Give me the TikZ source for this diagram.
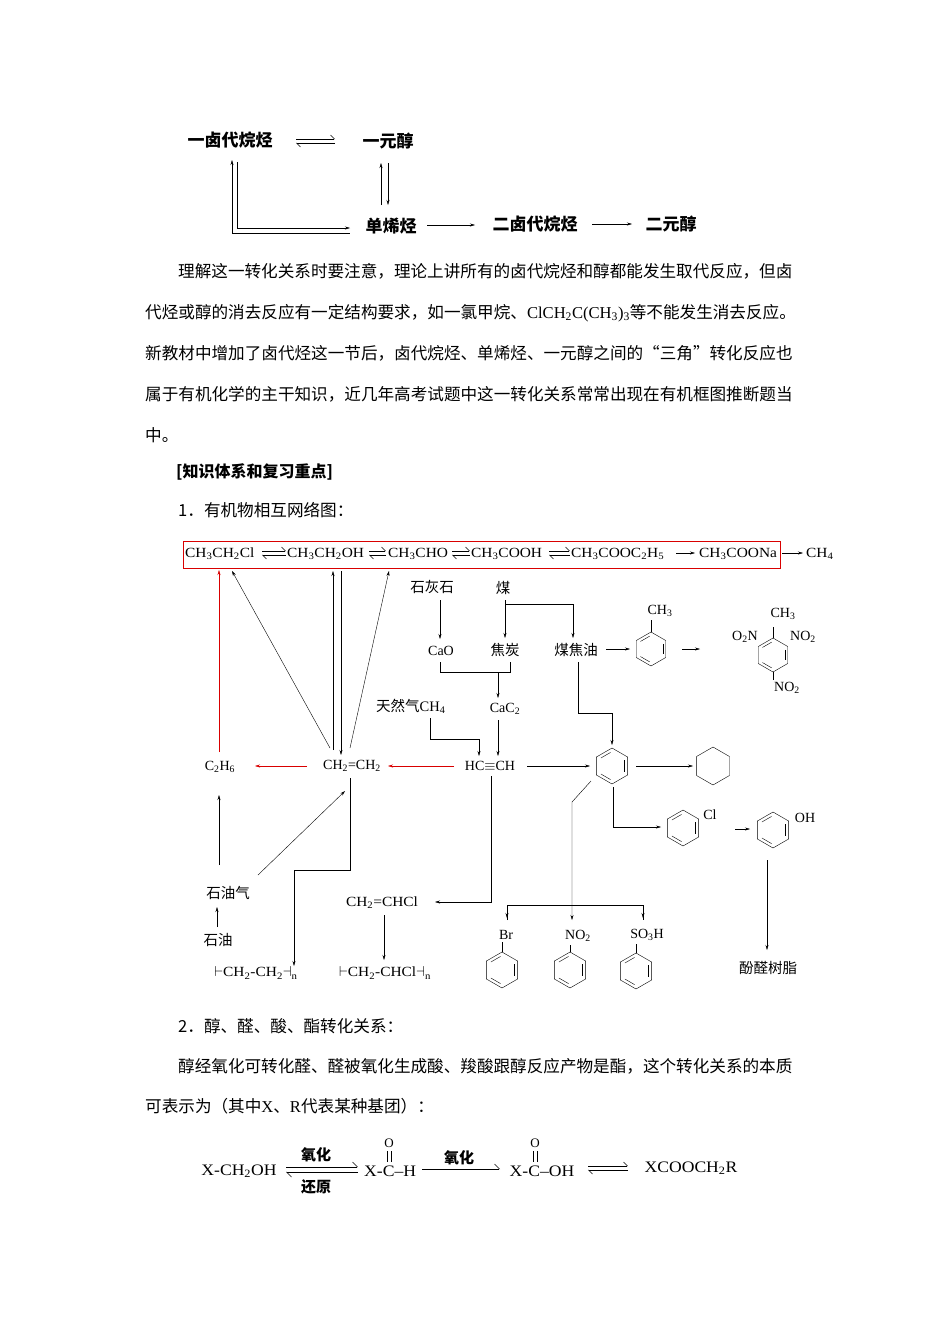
\documentclass[tikz,border=0pt]{standalone}
\usepackage{fontspec}
\setmainfont{Noto Sans CJK SC}
\newfontfamily\latf{Liberation Serif}
\newfontfamily\latw[FakeStretch=1.1]{Liberation Serif}
\usetikzlibrary{arrows.meta}
\newcommand{\dn}[1]{\textsubscript{#1}}
\newcommand{\hexa}[3]{%
 \begin{scope}[shift={(#1,#2)},y=1pt]
 \draw (90:#3) -- (30:#3) -- (-30:#3) -- (-90:#3) -- (-150:#3) -- (150:#3) -- cycle;
 \end{scope}}
\newcommand{\benz}[3]{%
 \begin{scope}[shift={(#1,#2)},y=1pt]
 \draw (90:#3) -- (30:#3) -- (-30:#3) -- (-90:#3) -- (-150:#3) -- (150:#3) -- cycle;
 \draw (24:0.76*#3) -- (-24:0.76*#3);
 \draw (-96:0.76*#3) -- (-144:0.76*#3);
 \draw (144:0.76*#3) -- (96:0.76*#3);
 \end{scope}}
\newcommand{\eqa}[3]{% x1 x2 y
 \draw[-{Straight Barb[left,length=4pt]}] (#1,#3-2) -- (#2,#3-2);
 \draw[-{Straight Barb[left,length=4pt]}] (#2,#3+2) -- (#1,#3+2);}
\begin{document}
\begin{tikzpicture}[x=1pt,y=-1pt,
 every node/.style={inner sep=0pt},
 para/.style={font=\fontsize{16.6}{18}\selectfont,anchor=west},
 big/.style={font=\fontsize{17}{18}\selectfont\bfseries},
 ch/.style={font=\latf\fontsize{14}{15}\selectfont},
 chw/.style={font=\latw\fontsize{14}{15}\selectfont},
 eq/.style={font=\latw\fontsize{16}{17}\selectfont},
 cn/.style={font=\fontsize{14.5}{15}\selectfont},
 ar/.style={-{Stealth[length=5pt,width=3pt]}},
 red/.style={draw=red!85!black}]
\useasboundingbox (0,0) rectangle (950,1344);
% ---- top scheme
\node[big] (a1) at (230,140) {一卤代烷烃};
\node[big] (a2) at (388,141) {一元醇};
\node[big] (a3) at (391,226) {单烯烃};
\node[big] (a4) at (535,224) {二卤代烷烃};
\node[big] (a5) at (671,224) {二元醇};
\eqa{296}{335}{141}
\draw[ar] (381,205) -- (381,163);
\draw[ar] (388,163) -- (388,205);
\draw[ar] (232,233) -- (232,160);
\draw[ar] (237,162) -- (237,228) -- (350,228);
\draw (232,233) -- (350,233);
\draw[ar] (427,225) -- (475,225);
\draw[ar] (592,224) -- (632,224);
% ---- paragraph
\node[para] at (178,271) {理解这一转化关系时要注意，理论上讲所有的卤代烷烃和醇都能发生取代反应，但卤};
\node[para] at (145,313) {代烃或醇的消去反应有一定结构要求，如一氯甲烷、{\latf ClCH\dn{2}C(CH\dn{3})\dn{3}}等不能发生消去反应。};
\node[para] at (145,353) {新教材中增加了卤代烃这一节后，卤代烷烃、单烯烃、一元醇之间的“三角”转化反应也};
\node[para] at (145,394) {属于有机化学的主干知识，近几年高考试题中这一转化关系常常出现在有机框图推断题当};
\node[para] at (145,435) {中。};
\node[para,font=\fontsize{16}{18}\selectfont\bfseries] at (176,472) {[知识体系和复习重点]};
\node[para] at (178,510) {1．有机物相互网络图：};
% ---- network top row
\draw[red,thick] (183,541) rectangle (780,568);
\node[chw,anchor=west] (t1) at (185,554) {CH\dn{3}CH\dn{2}Cl};
\node[chw,anchor=west] (t2) at (287,554) {CH\dn{3}CH\dn{2}OH};
\node[chw,anchor=west] (t3) at (388,554) {CH\dn{3}CHO};
\node[chw,anchor=west] (t4) at (471,554) {CH\dn{3}COOH};
\node[chw,anchor=west] (t5) at (571,554) {CH\dn{3}COOC\dn{2}H\dn{5}};
\node[chw,anchor=west] (t6) at (699,554) {CH\dn{3}COONa};
\node[chw,anchor=west] (t7) at (806,554) {CH\dn{4}};
\eqa{262}{286}{553}
\eqa{369}{386}{553}
\eqa{452}{470}{553}
\eqa{549}{570}{553}
\draw[ar] (676,553) -- (695,553);
\draw[ar] (782,553) -- (803,553);
% left side species
\node[ch] (c2h6) at (220,767) {C\dn{2}H\dn{6}};
\node[ch] (eth) at (352,766) {CH\dn{2}=CH\dn{2}};
\node[ch] (acet) at (490,766) {HC$\equiv$CH};
\draw[red,ar] (454,766) -- (388,766);
\draw[red,ar] (307,766) -- (255,766);
\draw[red,ar] (219,752) -- (219,570);
\draw[ar] (330,748) -- (232,571);
\draw[ar] (333,750) -- (333,571);
\draw[ar] (341,571) -- (341,755);
\draw[ar] (350,748) -- (389,571);
% coal branch
\node[cn] (lime) at (432,587) {石灰石};
\node[cn] (coal) at (503,588) {煤};
\node[ch] (cao) at (441,651) {CaO};
\node[cn] (coke) at (505,650) {焦炭};
\node[cn] (tar) at (576,650) {煤焦油};
\node[ch] (cac2) at (505,709) {CaC\dn{2}};
\node[cn,anchor=west] (gas) at (376,706) {天然气{\latf CH\dn{4}}};
\draw[ar] (440,600) -- (440,639);
\draw[ar] (505,600) -- (505,638);
\draw[ar] (505,604) -- (573,604) -- (573,638);
\draw (440,662) -- (440,672) -- (510,672) -- (510,662);
\draw[ar] (498,672) -- (498,698);
\draw[ar] (430,718) -- (430,739) -- (479,739) -- (479,756);
\draw[ar] (498,720) -- (498,756);
\draw[ar] (606,649) -- (630,649);
% toluene
\benz{651}{649}{17}
\draw (651,632) -- (651,620);
\node[ch] at (660,611) {CH\dn{3}};
\draw[ar] (682,649) -- (700,649);
% TNT
\benz{773}{655}{17}
\draw (773,638) -- (773,627);
\node[ch] at (783,614) {CH\dn{3}};
\node[ch,anchor=east] at (758,637) {O\dn{2}N};
\node[ch,anchor=west] at (790,637) {NO\dn{2}};
\draw (773,672) -- (773,680);
\node[ch] at (787,688) {NO\dn{2}};
% tar -> benzene
\draw[ar] (578,662) -- (578,713) -- (612,713) -- (612,745);
\draw[ar] (527,766) -- (590,766);
\benz{612}{766}{18}
\draw[ar] (636,766) -- (693,766);
\hexa{713}{766}{19}
% chlorobenzene, phenol
\draw[ar] (613,787) -- (613,827) -- (661,827);
\benz{683}{828}{18}
\node[ch] at (710,815) {Cl};
\draw[ar] (735,829) -- (750,829);
\benz{773}{830}{18}
\node[ch] at (805,818) {OH};
\draw[ar] (767,860) -- (767,950);
\node[cn] (pf) at (768,968) {酚醛树脂};
% substitution products
\draw[ar] (591,781) -- (572,802) -- (572,920);
\draw (507,920) -- (507,905) -- (643,905) -- (643,920);
\draw[ar] (507,905) -- (507,918);
\draw[ar] (643,905) -- (643,918);
\node[ch] at (506,935) {Br};
\draw (502,942) -- (502,952);
\benz{502}{970}{18}
\node[ch] at (578,936) {NO\dn{2}};
\draw (570,945) -- (570,952);
\benz{570}{970}{18}
\node[ch] at (647,935) {SO\dn{3}H};
\draw (636,944) -- (636,953);
\benz{636}{971}{18}
% acetylene -> vinyl chloride
\node[chw] (vc) at (382,903) {CH\dn{2}=CHCl};
\draw[ar] (491,776) -- (491,902) -- (435,902);
\draw[ar] (384,915) -- (384,960);
\node[chw] (pvc) at (385,973) {$\vdash$CH\dn{2}-CHCl$\dashv$\dn{n}};
% ethylene -> polyethylene
\draw[ar] (350,778) -- (350,870) -- (294,870) -- (294,966);
\node[chw] (pe) at (256,973) {$\vdash$CH\dn{2}-CH\dn{2}$\dashv$\dn{n}};
% petroleum
\node[cn] (pg) at (228,893) {石油气};
\node[cn] (po) at (218,940) {石油};
\draw[ar] (217,927) -- (217,907);
\draw[ar] (219,865) -- (219,795);
\draw[ar] (258,875) -- (345,791);
% ---- section 2
\node[para] at (178,1026) {2．醇、醛、酸、酯转化关系：};
\node[para] at (178,1066) {醇经氧化可转化醛、醛被氧化生成酸、羧酸跟醇反应产物是酯，这个转化关系的本质};
\node[para] at (145,1106) {可表示为（其中{\latf X}、{\latf R}代表某种基团）：};
% equation
\node[eq] (e1) at (239,1171) {X-CH\dn{2}OH};
\draw[-{Straight Barb[left,length=5pt]}] (286,1167) -- (358,1167);
\draw[-{Straight Barb[left,length=5pt]}] (358,1172) -- (286,1172);
\node[font=\fontsize{15}{16}\selectfont\bfseries] at (316,1155) {氧化};
\node[font=\fontsize{15}{16}\selectfont\bfseries] at (316,1187) {还原};
\node[eq,anchor=west] (e2) at (364,1171) {X-C–H};
\node[ch,font=\latf\fontsize{13}{14}\selectfont] at (389,1143) {O};
\draw (387,1151) -- (387,1162); \draw (391,1151) -- (391,1162);
\draw[-{Straight Barb[left,length=5pt]}] (e2.east) ++(6,-2) -- (500,1169);
\node[font=\fontsize{15}{16}\selectfont\bfseries] at (459,1158) {氧化};
\node[eq] (e3) at (542,1171) {X-C–OH};
\node[ch,font=\latf\fontsize{13}{14}\selectfont] at (535,1143) {O};
\draw (533,1151) -- (533,1162); \draw (537,1151) -- (537,1162);
\eqa{588}{628}{1168}
\node[eq] (e4) at (691,1168) {XCOOCH\dn{2}R};
\end{tikzpicture}
\end{document}
